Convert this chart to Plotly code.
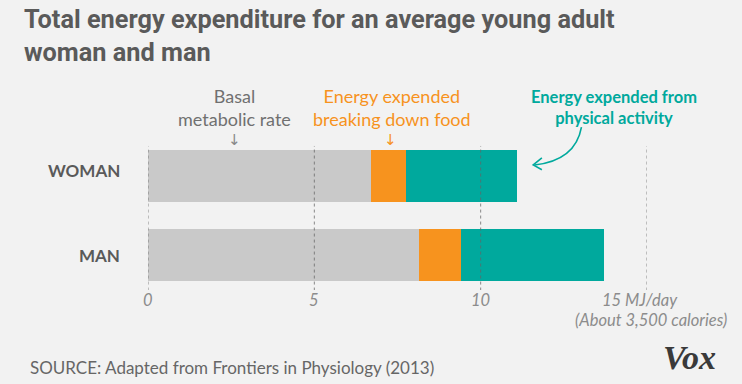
import plotly.graph_objects as go

groups = ["MAN", "WOMAN"]
basal = [8.15, 6.7]
food = [1.27, 1.05]
activity = [4.28, 3.35]
tick_vals = [0, 5, 10, 15]
tick_text = ["0", "5", "10", "15 MJ/day"]

BG = "#f2f2f2"
GREY = "#c9c9c9"
ORANGE = "#f7931e"
TEAL = "#00a99d"
TEXT = "#5a5a5a"

fig = go.Figure()
for name, vals, col in [("Basal metabolic rate", basal, GREY),
                        ("Energy expended breaking down food", food, ORANGE),
                        ("Energy expended from physical activity", activity, TEAL)]:
    fig.add_trace(go.Bar(y=groups, x=vals, orientation="h", name=name,
                         marker=dict(color=col, line=dict(width=0)),
                         hoverinfo="skip"))

shapes = []
for v in tick_vals:
    shapes.append(dict(type="line", xref="x", yref="y", x0=v, x1=v, y0=-0.45, y1=1.38,
                       line=dict(color="rgba(100,100,100,0.75)", width=1, dash="dot"), layer="above"))
# curved arrow
shapes.append(dict(type="path", xref="x", yref="y",
                   path="M 13.03,1.62 Q 12.85,1.20 11.62,1.14",
                   line=dict(color=TEAL, width=1.6)))
shapes.append(dict(type="path", xref="x", yref="y",
                   path="M 11.84,1.23 L 11.58,1.14 L 11.84,1.08",
                   line=dict(color=TEAL, width=1.6)))

ann = []
font_l = "Lato, Roboto, sans-serif"
PW, PH, L, B = 499.0, 190.0, 148.0, 290.0
def px(x):
    return (x - L) / PW
def py(y):
    return (B - y) / PH

def add(**kw):
    kw.setdefault("xref", "paper")
    kw.setdefault("yref", "paper")
    kw.setdefault("xanchor", "center")
    kw.setdefault("yanchor", "middle")
    kw.setdefault("showarrow", False)
    ann.append(kw)

# title
add(x=px(22), y=py(3), xanchor="left", yanchor="top", align="left",
    text="<b>Total energy expenditure for an average young adult<br>woman and man</b>",
    font=dict(family="Roboto, sans-serif", size=25.3, color=TEXT))
# category labels
for g, ypix in zip(groups, [255, 170]):
    add(x=px(122), y=py(ypix), xanchor="right",
        text="<b>%s</b>" % g, font=dict(family=font_l, size=17, color=TEXT))
# tick labels
for v, t in zip(tick_vals, tick_text):
    xx = v / 15.0 if v < 15 else px(640)
    add(x=xx, y=py(300), text="<i>%s</i>" % t, font=dict(family=font_l, size=16.5, color="#8c8c8c"))
add(x=px(651), y=py(320), text="<i>(About 3,500 calories)</i>",
    font=dict(family=font_l, size=16.5, color="#8c8c8c"))
# series labels
add(x=px(234), y=py(107), text="Basal<br>metabolic rate",
    font=dict(family=font_l, size=18, color="#707070"))
add(x=px(392), y=py(107), text="Energy expended<br>breaking down food",
    font=dict(family=font_l, size=18, color=ORANGE))
add(x=px(614), y=py(107), text="<b>Energy expended from<br>physical activity</b>",
    font=dict(family=font_l, size=16.5, color=TEAL))
# small down arrows
add(x=px(234), y=py(140), text="↓", font=dict(family="DejaVu Sans", size=15, color="#888888"))
add(x=px(390), y=py(140), text="↓", font=dict(family="DejaVu Sans", size=15, color=ORANGE))
# source & logo
add(x=px(28), y=py(367), xanchor="left",
    text="SOURCE: Adapted from Frontiers in Physiology (2013)",
    font=dict(family=font_l, size=17, color="#666666"))
add(x=px(718), y=py(357), xanchor="right", text="<b><i>Vox</i></b>",
    font=dict(family="Liberation Serif, serif", size=34, color="#3a3a3a"))

fig.update_layout(
    barmode="stack", bargap=0.34, showlegend=False,
    width=742, height=384, paper_bgcolor=BG, plot_bgcolor=BG,
    margin=dict(l=148, r=95, t=100, b=94),
    xaxis=dict(range=[0, 15], showgrid=False, zeroline=False, showticklabels=False, fixedrange=True),
    yaxis=dict(range=[-0.443, 1.962], categoryorder="array", categoryarray=groups,
               showgrid=False, zeroline=False, showticklabels=False, fixedrange=True),
    shapes=shapes, annotations=ann,
)
fig.write_html("out.html", config={"displayModeBar": False},
               post_script="document.body.style.margin='0';document.body.style.background='%s';" % BG)
